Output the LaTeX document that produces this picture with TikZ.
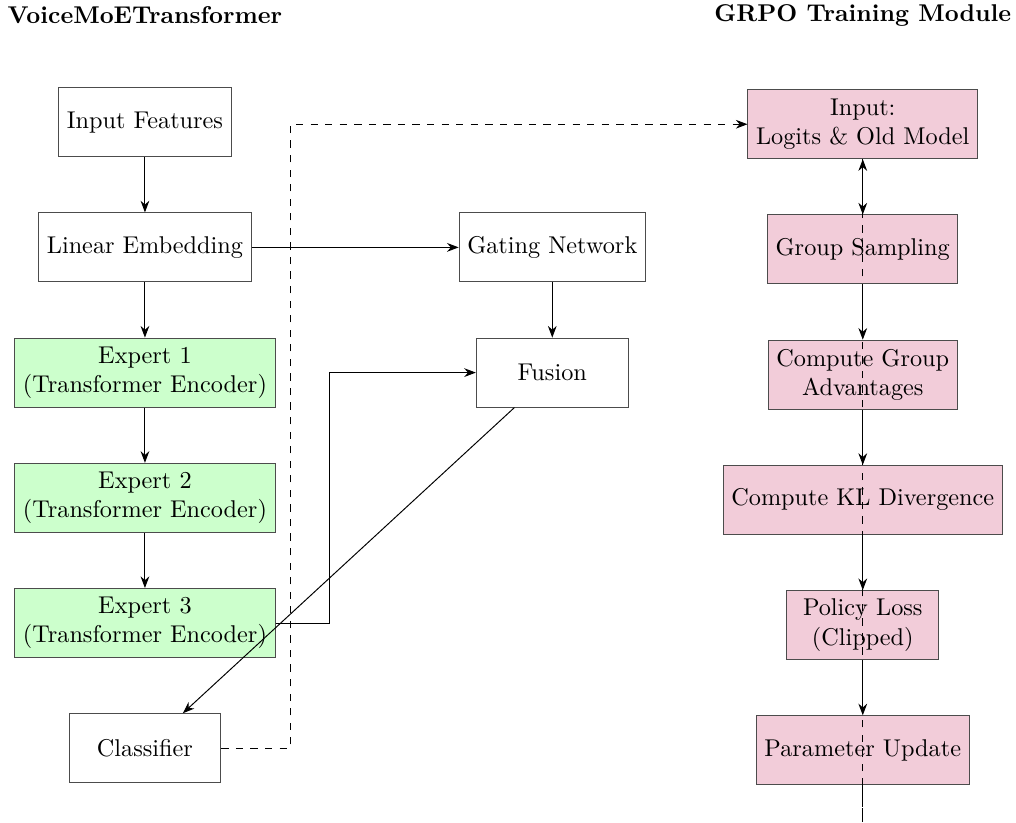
\documentclass[tikz,border=0pt]{standalone}
\usepackage{amsmath}
\usetikzlibrary{positioning,arrows.meta}

\begin{document}
\begin{tikzpicture}[
>=Stealth,
block/.style={rectangle, draw=black!70, minimum height=1cm, minimum width=2.2cm, align=center},
expert/.style={block, fill=green!20},
grpo/.style={block, fill=purple!20}
]
\useasboundingbox (-2.1,1.77) rectangle (12.62,-10.14);
%Titles
\node[font=\bfseries] (moetitle)  at (0,1.55)    {VoiceMoETransformer};
\node[font=\bfseries] (grpotitle) at (10.4,1.55) {GRPO Training Module};
%Nodes
\node[block]   (feat)                           at (0,0)      {Input Features};
\node[block]   (embed)  [below=0.8cm of feat]                {Linear Embedding};
\node[expert]  (exp1)   [below=0.8cm of embed]               {Expert 1\\(Transformer Encoder)};
\node[expert]  (exp2)   [below=0.8cm of exp1]                {Expert 2\\(Transformer Encoder)};
\node[expert]  (exp3)   [below=0.8cm of exp2]                {Expert 3\\(Transformer Encoder)};
\node[block]   (clf)    [below=0.8cm of exp3]                {Classifier};
\node[block]   (gate)   [right=3cm of embed]                 {Gating Network};
\node[block]   (fusion) [below=0.8cm of gate]                {Fusion};
\node[grpo]    (grpoin)                         at (10.4,-0.03) {Input:\\Logits \& Old Model};
\node[grpo]    (sample) [below=0.8cm of grpoin]              {Group Sampling};
\node[grpo]    (adv)    [below=0.8cm of sample]              {Compute Group\\Advantages};
\node[grpo]    (kl)     [below=0.8cm of adv]                 {Compute KL Divergence};
\node[grpo]    (policy) [below=0.8cm of kl]                  {Policy Loss\\(Clipped)};
\node[grpo]    (update) [below=0.8cm of policy]              {Parameter Update};
\path (update.south) ++(0,-0.53) coordinate (loop);
%Lines
\draw[->] (feat) -- (embed);
\draw[->] (embed) -- (exp1);
\draw[->] (exp1) -- (exp2);
\draw[->] (exp2) -- (exp3);
\draw[->] (embed) -- (gate);
\draw[->] (gate) -- (fusion);
\draw[->] (exp3.east) -- ++(0.78,0) |- (fusion.west);
\draw[->] (fusion) -- (clf);
\draw[->, dashed] (clf.east) -- ++(1,0) |- (grpoin.west);
\draw[->] (grpoin) -- (sample);
\draw[->] (sample) -- (adv);
\draw[->] (adv) -- (kl);
\draw[->] (kl) -- (policy);
\draw[->] (policy) -- (update);
\draw[->, dashed] (update.south) -- (loop) -- (grpoin.south);
\end{tikzpicture}
\end{document}
